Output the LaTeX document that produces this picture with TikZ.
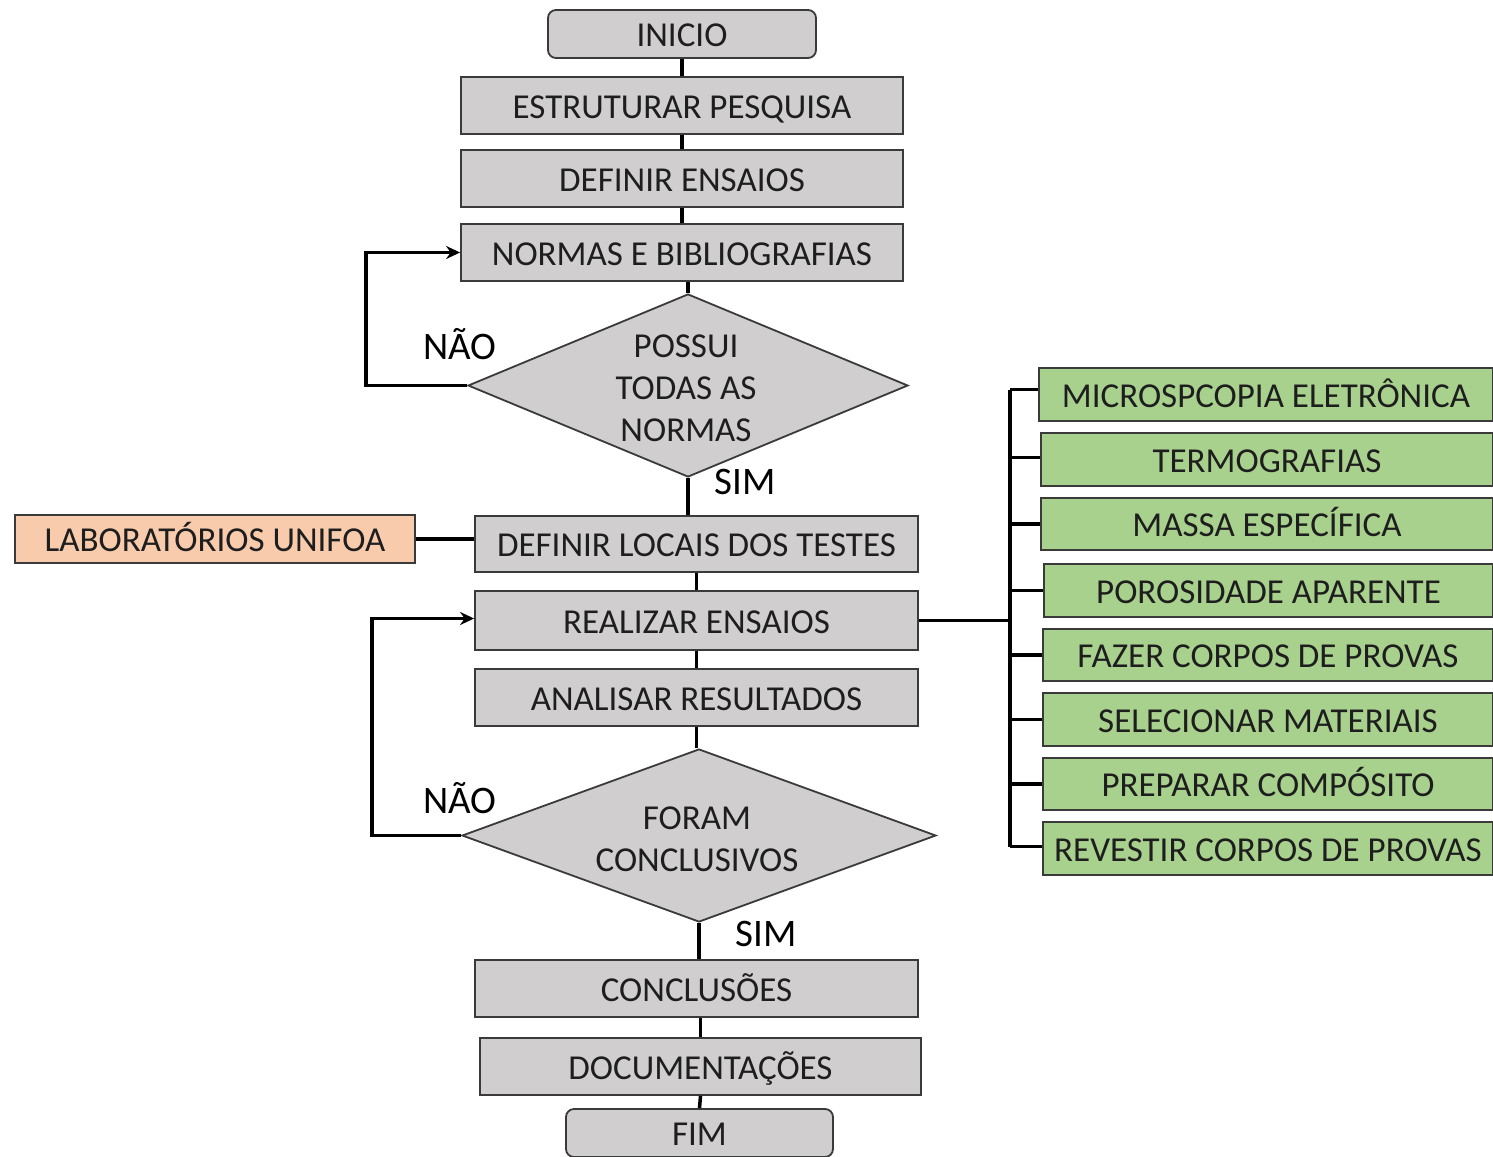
\documentclass[tikz,border=0pt]{standalone}
\usepackage{fontspec}
\setmainfont{Carlito}
\usetikzlibrary{shapes.geometric,arrows.meta}
\definecolor{boxgray}{HTML}{D0CECE}
\definecolor{boxline}{HTML}{3A3A3A}
\definecolor{txt}{HTML}{1E1E1E}
\definecolor{peach}{HTML}{F8CBAD}
\definecolor{leaf}{HTML}{A9D18E}
\begin{document}
\begin{tikzpicture}[x=1pt,y=-1pt,
  font=\fontsize{35}{42}\selectfont,
  base/.style={draw=boxline,line width=1.8pt,text=txt,inner sep=0pt,anchor=center,text height=25pt,text depth=0pt},
  grayb/.style={base,fill=boxgray,minimum width=442pt,minimum height=57pt},
  term/.style={base,fill=boxgray,rounded corners=8pt,minimum width=268pt,minimum height=48pt},
  greenb/.style={base,fill=leaf,minimum height=53pt},
  dia/.style={diamond,draw=boxline,line width=1.8pt,fill=boxgray,inner sep=0pt},
  lab/.style={text=txt,inner sep=0pt},
  yn/.style={text=black,inner sep=0pt,font=\fontsize{39}{44}\selectfont},
  conn/.style={line width=3.5pt,black},
  arr/.style={conn,-{Stealth[length=14pt,width=13pt]}}]
\useasboundingbox (0,0) rectangle (1493,1156);
% main column
\node[term] (ini) at (682,34) {INICIO};
\node[grayb] (est) at (682,105.5) {ESTRUTURAR PESQUISA};
\node[grayb] (def) at (682,178.5) {DEFINIR ENSAIOS};
\node[grayb] (nor) at (682,252.5) {NORMAS E BIBLIOGRAFIAS};
\node[dia,minimum width=440pt,minimum height=183pt] (d1) at (688,385.5) {};
\node[lab,align=center] (d1t) at (686,388) {POSSUI\\TODAS AS\\NORMAS};
\node[grayb,minimum width=443pt,minimum height=56pt] (loc) at (696.5,544) {DEFINIR LOCAIS DOS TESTES};
\node[base,fill=peach,minimum width=400pt,minimum height=48pt] (lab) at (215,539) {LABORATÓRIOS UNIFOA};
\node[grayb,minimum width=443pt,minimum height=59pt] (rea) at (696.5,620.5) {REALIZAR ENSAIOS};
\node[grayb,minimum width=443pt,minimum height=57pt] (ana) at (696.5,697.5) {ANALISAR RESULTADOS};
\node[dia,minimum width=474pt,minimum height=173pt] (d2) at (699,835.5) {};
\node[lab,align=center] (d2t) at (697,839) {FORAM\\CONCLUSIVOS};
\node[grayb,minimum width=443pt,minimum height=57pt] (con) at (696.5,988.5) {CONCLUSÕES};
\node[grayb,minimum width=441pt,minimum height=57pt] (doc) at (700.5,1066.5) {DOCUMENTAÇÕES};
\node[term,minimum width=267pt] (fim) at (699.5,1133) {FIM};
% labels
\node[yn] (nao1) at (460,344) {NÃO};
\node[yn] (sim1) at (745,482) {SIM};
\node[yn] (nao2) at (460,798) {NÃO};
\node[yn] (sim2) at (766,934) {SIM};
% green boxes
\node[greenb,minimum width=454pt] (g1) at (1266,394.5) {MICROSPCOPIA ELETRÔNICA};
\node[greenb,minimum width=452pt] (g2) at (1267,459.5) {TERMOGRAFIAS};
\node[greenb,minimum width=452pt,minimum height=52pt] (g3) at (1267,524) {MASSA ESPECÍFICA};
\node[greenb,minimum width=449pt] (g4) at (1268.5,590.5) {POROSIDADE APARENTE};
\node[greenb,minimum width=450pt,minimum height=52pt] (g5) at (1268,655) {FAZER CORPOS DE PROVAS};
\node[greenb,minimum width=450pt] (g6) at (1268,719.5) {SELECIONAR MATERIAIS};
\node[greenb,minimum width=450pt,minimum height=52pt] (g7) at (1268,784) {PREPARAR COMPÓSITO};
\node[greenb,minimum width=450pt] (g8) at (1268,848.5) {REVESTIR CORPOS DE PROVAS};
% vertical flow connectors
\draw[conn] (ini.south) -- (est.north);
\draw[conn] (est.south) -- (def.north);
\draw[conn] (def.south) -- (nor.north);
\draw[conn] (d1.north |- nor.south) -- (d1.north);
\draw[conn] (d1.south) -- (d1.south |- loc.north);
\draw[conn] (loc.south) -- (rea.north);
\draw[conn] (rea.south) -- (ana.north);
\draw[conn] (ana.south) -- (ana.south |- d2.north);
\draw[conn] (d2.south) -- (d2.south |- con.north);
\draw[conn] (con.south -| doc.north) -- (doc.north);
\draw[conn] (doc.south) -- (fim.north);
% loops
\coordinate (l1) at (366,0);
\coordinate (l2) at (372,0);
\draw[arr] (d1.west) -- (d1.west -| l1) -- (l1 |- nor.west) -- (nor.west);
\draw[arr] (d2.west) -- (d2.west -| l2) -- ([yshift=2pt]l2 |- rea.west) -- ([yshift=2pt]rea.west);
% lab connector
\draw[conn] (lab.east) -- (lab.east -| loc.west);
% right bus
\coordinate (bus) at (1010,0);
\draw[conn] (rea.east) -- (rea.east -| bus);
\draw[conn] ([yshift=5pt]bus |- g1.west) -- ([yshift=2pt]bus |- g8.west);
\foreach \g/\dy in {g1/5,g2/2,g3/0,g4/0,g5/0,g6/0,g7/0,g8/2}
  \draw[conn] ([yshift=\dy pt]bus |- \g.west) -- ([yshift=\dy pt]\g.west);
\end{tikzpicture}
\end{document}
